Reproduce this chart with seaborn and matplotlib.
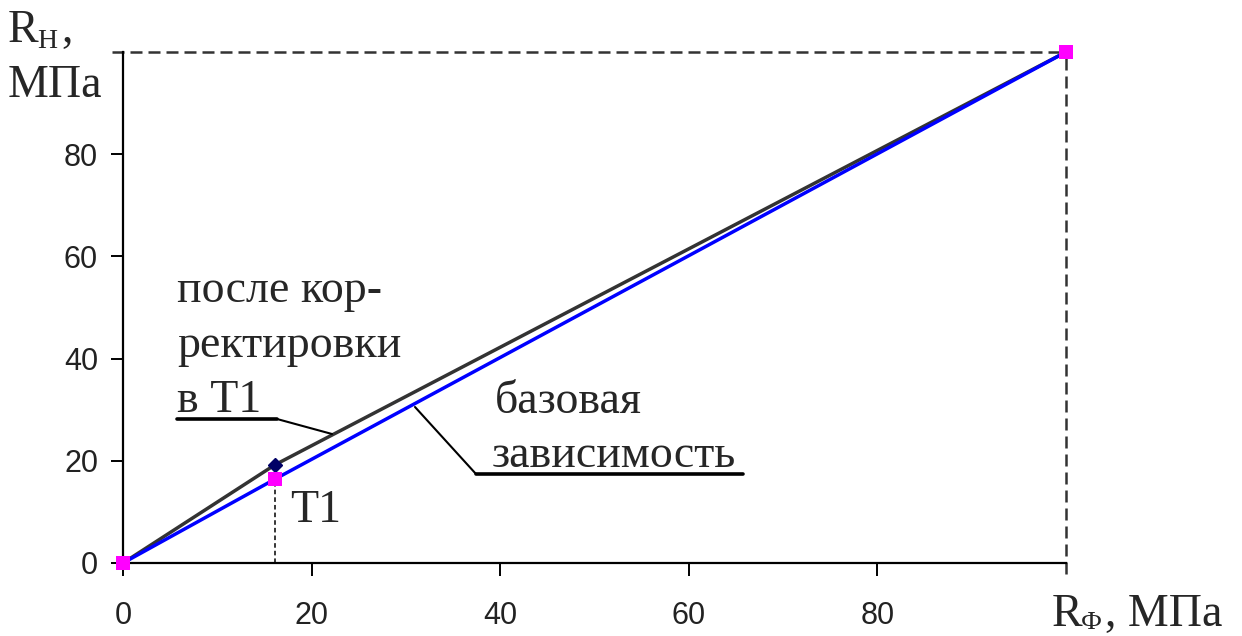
import pandas as pd
import matplotlib.pyplot as plt
import seaborn as sns

# values
rf_base = [0, 16.1, 100]
rn_base = [0, 16.4, 100]
rf_corr = [0, 16.1, 100]
rn_corr = [0, 19.2, 100]
t1_x, t1_y = 16.1, 16.4
xticks = [0, 20, 40, 60, 80]
yticks = [0, 20, 40, 60, 80]

base = pd.DataFrame({"Rf": rf_base, "Rn": rn_base})
corr = pd.DataFrame({"Rf": rf_corr, "Rn": rn_corr})

sns.set_style("ticks")
plt.rcParams["font.family"] = ["Liberation Sans", "DejaVu Sans"]

W, H = 1242, 636
fig = plt.figure(figsize=(W / 100, H / 100), dpi=100)
ax = fig.add_axes([123 / W, 1 - 563 / H, (1066 - 123) / W, (563 - 52) / H])

sns.lineplot(data=corr, x="Rf", y="Rn", ax=ax, color="#333333", lw=2.5,
             sort=False, estimator=None)
ax.plot(corr["Rf"][1:2], corr["Rn"][1:2], marker="D", ms=7, color="#000066",
        ls="none", zorder=4)
sns.lineplot(data=base, x="Rf", y="Rn", ax=ax, color="#0000ff", lw=2.5,
             sort=False, estimator=None)
sns.scatterplot(data=base, x="Rf", y="Rn", ax=ax, marker="s", s=110,
                color="#ff00ff", edgecolor="none", zorder=5, clip_on=False)

# reference lines
ax.plot([-1.2, 100], [100, 100], ls=(0, (4.8, 2.4)), color="#333333", lw=1.8,
        clip_on=False)
ax.plot([100, 100], [-2.2, 100], ls=(0, (4.8, 2.4)), color="#333333", lw=1.8,
        clip_on=False)
ax.plot([t1_x, t1_x], [0, t1_y], ls=(0, (3, 2)), color="black", lw=1.1)

ax.set_xlim(0, 100)
ax.set_ylim(0, 100)
ax.set_xticks(xticks)
ax.set_yticks(yticks)
ax.tick_params(axis="both", labelsize=22, length=9, width=1.4,
               colors="black", labelcolor="#222222")
ax.tick_params(axis="x", pad=18)
ax.tick_params(axis="y", pad=9)
ax.set_xlabel("")
ax.set_ylabel("")
for s in ["top", "right"]:
    ax.spines[s].set_visible(False)
for s in ["left", "bottom"]:
    ax.spines[s].set_linewidth(1.6)
    ax.spines[s].set_color("black")

serif = ["Liberation Serif", "DejaVu Serif"]


def px(x, y):
    return x / W, 1 - y / H


def ftext(x, y, s, size=33, **kw):
    fig.text(*px(x, y), s, fontsize=size, family=serif, va="baseline",
             ha="left", **kw)


# axis titles
ftext(8, 42, "R")
ftext(37, 48, "Н", size=20)
ftext(61, 42, ",")
ftext(8, 97, "МПа")
ftext(1052, 626, "R")
ftext(1081, 629, "Ф", size=19)
ftext(1105, 626, ", МПа")

# annotations
ftext(177, 302, "после кор-")
ftext(177, 357, "ректировки")
ftext(177, 412, "в Т1")
ftext(495, 413, "базовая")
ftext(492, 467, "зависимость")
ftext(290, 522, "Т1")

lines = [
    ([277, 332], [419, 434]),
    ([415, 476], [407, 474]),
]
for xs, ys in lines:
    fig.add_artist(plt.Line2D([x / W for x in xs], [1 - y / H for y in ys],
                              color="black", lw=1.5))
fig.add_artist(plt.Line2D([177 / W, 277 / W], [1 - 419 / H, 1 - 419 / H],
                          color="black", lw=2.6))
fig.add_artist(plt.Line2D([476 / W, 743 / W], [1 - 474 / H, 1 - 474 / H],
                          color="black", lw=2.6))

fig.savefig("out.png", dpi=100)
